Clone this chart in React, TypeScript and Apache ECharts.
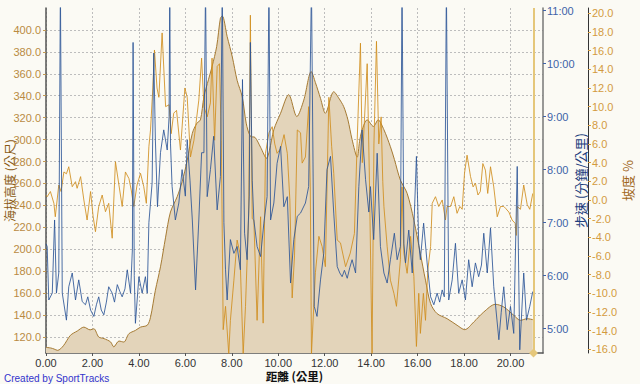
import React, { useEffect, useRef } from "react";
import * as echarts from "echarts";

// Elevation profile (km, m)
const elevKm = [0.0, 0.2, 0.35, 0.5, 0.75, 1.05, 1.35, 1.63, 1.9, 2.06, 2.27, 2.5, 2.78, 2.92, 3.14, 3.35, 3.57, 3.85, 4.07, 4.36, 4.5, 4.71, 4.93, 5.15, 5.36, 5.65, 5.86, 6.08, 6.3, 6.5, 6.65, 6.8, 7.0, 7.15, 7.35, 7.51, 7.59, 7.8, 8.02, 8.23, 8.45, 8.62, 8.8, 9.0, 9.24, 9.5, 9.62, 9.81, 10.1, 10.45, 10.8, 11.1, 11.42, 11.6, 11.82, 12.03, 12.39, 12.6, 12.82, 13.0, 13.18, 13.4, 13.5, 13.6, 13.83, 14.1, 14.3, 14.55, 14.83, 15.0, 15.26, 15.55, 15.84, 16.12, 16.34, 16.56, 16.84, 17.27, 17.7, 18.03, 18.42, 18.85, 19.35, 19.71, 20.14, 20.43, 20.72, 20.96];
const elevM = [110.5, 110, 109, 107.8, 112, 121.5, 125.5, 129, 126.5, 127.5, 120, 118.5, 115.5, 111, 116.3, 115.4, 123, 126, 129, 130.7, 138, 162.6, 184, 211, 234, 248, 261.5, 281, 305.7, 315, 318, 339, 355, 366.5, 385, 410.7, 412.8, 394, 375.6, 354, 339, 315, 303, 302, 293, 283, 290, 309, 324, 341, 321, 336, 362, 352, 337.6, 324, 343.7, 338, 330, 318, 300, 284, 298, 308, 318, 312, 318, 309, 293.5, 282, 263, 251, 226.5, 196, 171.8, 150.5, 141.3, 136.7, 130.7, 126.7, 133.7, 142.8, 149.8, 147.4, 139.8, 135.2, 136.7, 135.8];

// Pace (km, minutes per km)
const paceKm = [0.0, 0.05, 0.12, 0.27, 0.37, 0.45, 0.55, 0.62, 0.7, 0.88, 0.98, 1.13, 1.27, 1.41, 1.56, 1.7, 1.8, 1.92, 2.06, 2.17, 2.27, 2.38, 2.49, 2.6, 2.7, 2.85, 2.95, 3.07, 3.18, 3.28, 3.4, 3.5, 3.64, 3.72, 3.75, 3.8, 3.85, 4.0, 4.14, 4.28, 4.36, 4.43, 4.57, 4.64, 4.71, 4.8, 4.93, 5.07, 5.22, 5.3, 5.33, 5.36, 5.43, 5.57, 5.72, 5.86, 6.0, 6.08, 6.2, 6.3, 6.44, 6.58, 6.7, 6.8, 6.87, 6.94, 7.08, 7.22, 7.37, 7.51, 7.59, 7.66, 7.73, 7.8, 7.94, 8.09, 8.23, 8.37, 8.46, 8.55, 8.66, 8.75, 8.8, 8.88, 8.95, 9.09, 9.24, 9.38, 9.52, 9.6, 9.67, 9.81, 9.95, 10.1, 10.24, 10.39, 10.53, 10.67, 10.82, 10.96, 11.17, 11.31, 11.43, 11.55, 11.67, 11.82, 11.96, 12.1, 12.25, 12.39, 12.54, 12.65, 12.75, 12.85, 12.97, 13.08, 13.18, 13.33, 13.47, 13.61, 13.76, 13.9, 13.97, 14.11, 14.26, 14.4, 14.55, 14.69, 14.83, 15.0, 15.12, 15.26, 15.33, 15.41, 15.48, 15.62, 15.77, 15.95, 16.05, 16.12, 16.26, 16.41, 16.56, 16.7, 16.84, 16.95, 17.06, 17.15, 17.24, 17.34, 17.49, 17.63, 17.77, 17.92, 18.06, 18.2, 18.35, 18.49, 18.63, 18.75, 18.85, 19.0, 19.14, 19.28, 19.5, 19.6, 19.71, 19.86, 20.0, 20.14, 20.29, 20.4, 20.57, 20.69, 20.83, 20.96];
const paceMin = [6.6, 6.55, 5.54, 5.67, 7.05, 5.67, 6.05, 11.5, 5.67, 5.16, 5.79, 6.05, 5.54, 5.92, 5.51, 5.45, 5.6, 5.35, 5.23, 5.45, 5.6, 5.35, 5.26, 5.5, 5.79, 5.67, 5.5, 5.83, 5.7, 5.6, 5.75, 6.11, 5.67, 6.5, 10.4, 6.0, 5.1, 5.98, 5.67, 5.98, 5.67, 7.0, 7.75, 10.2, 8.56, 7.3, 8.32, 8.75, 8.37, 9.0, 11.5, 8.5, 7.68, 7.05, 7.37, 8.0, 7.5, 8.56, 7.8, 7.05, 5.73, 7.05, 8.32, 8.32, 11.5, 7.49, 8.0, 8.63, 7.24, 7.87, 11.5, 7.0, 6.11, 5.54, 6.68, 6.42, 6.55, 6.11, 9.7, 6.8, 6.3, 7.5, 10.4, 7.8, 7.05, 6.55, 6.36, 6.99, 7.49, 11.5, 7.05, 7.37, 8.12, 8.44, 7.3, 7.49, 5.86, 6.68, 7.12, 7.18, 7.37, 7.68, 11.5, 5.42, 5.23, 5.92, 6.42, 8.0, 8.25, 7.18, 6.17, 6.05, 5.98, 6.1, 5.95, 6.15, 6.3, 6.05, 7.68, 8.75, 7.81, 7.2, 7.68, 6.68, 8.31, 6.55, 6.05, 5.86, 6.3, 6.8, 6.3, 6.55, 11.5, 6.6, 6.24, 6.86, 6.05, 8.25, 6.6, 6.3, 6.99, 6.24, 5.6, 5.45, 5.67, 5.5, 5.73, 5.6, 11.5, 5.54, 5.92, 6.61, 5.67, 5.92, 5.54, 6.3, 5.79, 6.24, 5.98, 6.2, 6.8, 6.05, 6.9, 5.79, 4.79, 5.3, 5.79, 4.98, 5.42, 4.91, 8.06, 4.6, 6.05, 5.16, 5.42, 5.7];

// Grade (km, %)
const gradeKm = [0.0, 0.05, 0.19, 0.34, 0.4, 0.55, 0.65, 0.77, 0.88, 0.98, 1.13, 1.27, 1.34, 1.49, 1.63, 1.77, 1.92, 2.03, 2.13, 2.27, 2.42, 2.56, 2.7, 2.85, 2.99, 3.14, 3.28, 3.42, 3.57, 3.67, 3.78, 3.92, 4.07, 4.21, 4.32, 4.43, 4.5, 4.6, 4.67, 4.78, 4.86, 5.0, 5.15, 5.3, 5.39, 5.5, 5.62, 5.79, 5.98, 6.08, 6.22, 6.37, 6.58, 6.7, 6.8, 6.94, 7.08, 7.15, 7.26, 7.37, 7.47, 7.55, 7.63, 7.73, 7.87, 7.94, 8.09, 8.23, 8.35, 8.49, 8.59, 8.73, 8.8, 8.88, 8.95, 9.09, 9.24, 9.35, 9.45, 9.6, 9.74, 9.85, 9.95, 10.1, 10.25, 10.39, 10.5, 10.6, 10.7, 10.82, 10.96, 11.03, 11.17, 11.31, 11.38, 11.43, 11.6, 11.75, 11.89, 12.03, 12.18, 12.3, 12.39, 12.54, 12.68, 12.9, 13.1, 13.28, 13.4, 13.54, 13.62, 13.7, 13.83, 13.92, 14.04, 14.12, 14.23, 14.33, 14.43, 14.5, 14.55, 14.69, 14.83, 14.98, 15.09, 15.26, 15.33, 15.41, 15.55, 15.7, 15.84, 15.95, 16.05, 16.12, 16.25, 16.34, 16.44, 16.56, 16.63, 16.77, 16.91, 17.06, 17.2, 17.27, 17.42, 17.56, 17.7, 17.82, 17.92, 18.02, 18.13, 18.28, 18.39, 18.49, 18.6, 18.7, 18.81, 18.92, 19.02, 19.14, 19.28, 19.43, 19.57, 19.71, 19.79, 19.93, 20.07, 20.2, 20.25, 20.29, 20.43, 20.57, 20.72, 20.83, 20.96];
const gradePct = [0.5, 0.35, 0.9, -0.36, -1.8, 1.6, 0.9, 3.0, 2.8, 3.56, 1.42, 1.96, 1.25, 2.5, 0.0, -2.15, 0.9, -1.8, -3.4, -0.7, 0.53, -1.26, -0.36, -4.1, 4.1, 1.6, -0.7, 3.0, 2.3, 1.07, -0.7, 1.6, 2.86, 1.42, -0.36, 5.7, 7.5, 12.0, 16.07, 12.0, 11.0, 17.9, 10.0, 10.2, 7.1, 9.3, 9.6, 5.35, 12.0, 11.0, 4.6, 6.4, 10.7, 15.2, 10.0, 8.9, 10.4, 15.2, 6.4, 14.3, 14.6, 6.4, -13.9, -11.4, -16.5, -12.9, -8.6, -4.3, -5.7, -16.5, -11.4, -1.4, 19.8, -2.0, -2.15, -12.9, -1.8, -13.2, 5.0, 7.2, 7.85, 6.0, 5.0, 5.5, 7.0, 5.0, 0.0, -10.5, -6.0, 7.5, 7.2, 3.95, 4.6, 10.0, 1.4, -16.5, -7.8, -3.9, -5.0, -7.15, 11.0, 5.7, 2.86, -4.3, -4.6, -7.15, -5.7, -3.6, 6.4, 16.8, 4.0, 8.0, 14.6, 3.0, -16.5, 6.0, 17.0, 6.0, 8.9, 2.0, -0.7, -5.0, -8.6, -10.0, -11.4, -6.4, 1.4, -5.7, -7.86, -3.9, -8.2, -15.7, -10.0, -14.3, -10.0, -12.9, -7.5, -5.0, -0.36, 0.35, -0.7, 0.0, -2.15, -0.7, -0.7, 0.35, -1.43, -0.7, -1.0, 2.86, 4.8, 2.5, 1.4, 1.8, 0.53, 0.9, 3.9, 3.2, 0.7, 3.56, 1.4, -1.8, -0.7, -0.7, -0.9, -1.3, -2.15, -2.5, -3.8, -0.7, -1.0, 1.6, -0.5, -1.0, 0.7];

// Tick labels
const distTicks = [0, 2, 4, 6, 8, 10, 12, 14, 16, 18, 20];
const elevTicks = [120, 140, 160, 180, 200, 220, 240, 260, 280, 300, 320, 340, 360, 380, 400];
const paceTicks = [5, 6, 7, 8, 9, 10, 11];
const gradeTicks = [-16, -14, -12, -10, -8, -6, -4, -2, 0, 2, 4, 6, 8, 10, 12, 14, 16, 18, 20];
const lapMarkerKm = [20.99];

const FONT = "Liberation Sans, Arial, sans-serif";
const CJK = "Noto Sans CJK TC, sans-serif";

export default function App() {
  const ref = useRef<HTMLDivElement>(null);
  useEffect(() => {
    if (!ref.current) return;
    const chart = echarts.init(ref.current, undefined, { renderer: "svg" });
    const pair = (xs: number[], ys: number[]) => xs.map((x, i) => [x, ys[i]]);
    const fmtPace = (v: number) => {
      const m = Math.floor(v + 1e-6);
      const s = Math.round((v - m) * 60);
      return `${m}:${String(s).padStart(2, "0")}`;
    };
    chart.setOption({
      animation: false,
      backgroundColor: "#FBFAF4",
      textStyle: { fontFamily: FONT },
      grid: { left: 46, right: 97, top: 8, bottom: 31, containLabel: false, outerBoundsMode: "none" },
      xAxis: {
        type: "value",
        min: 0,
        max: 21.4,
        name: "距離 (公里)",
        nameLocation: "middle",
        nameGap: 17,
        nameMoveOverlap: false,
        nameTextStyle: { color: "#111", fontSize: 11.5, fontWeight: "bold", fontFamily: CJK, lineHeight: 12 },
        axisLine: { show: true, onZero: false, lineStyle: { color: "#555", width: 1.5 } },
        axisTick: { show: true, customValues: distTicks, length: 3, lineStyle: { color: "#555" } },
        axisLabel: { customValues: distTicks, color: "#333", fontSize: 11, margin: 4, formatter: (v: number) => v.toFixed(2) },
        splitLine: { show: true, lineStyle: { color: "#bdbdbd", type: [2, 2] } },
      },
      yAxis: [
        {
          type: "value",
          position: "left",
          min: 105.4,
          max: 420,
          name: "海拔高度 (公尺)",
          nameLocation: "middle",
          nameRotate: 90,
          nameGap: 30,
          nameMoveOverlap: false,
          nameTextStyle: { color: "#8A5A14", fontSize: 12, fontFamily: CJK, lineHeight: 13 },
          axisLine: { show: true, onZero: false, lineStyle: { color: "#555", width: 1.5 } },
          axisTick: { show: true, customValues: elevTicks, length: 3, lineStyle: { color: "#C39A55" } },
          axisLabel: { customValues: elevTicks, color: "#B98A43", fontSize: 11, margin: 5, formatter: (v: number) => v.toFixed(1) },
          splitLine: { show: true, lineStyle: { color: "#bdbdbd", type: [2, 2] } },
        },
        {
          type: "value",
          position: "right",
          min: 4.54,
          max: 11.05,
          name: "步速 (分鐘/公里)",
          nameLocation: "middle",
          nameRotate: 90,
          nameGap: 30,
          nameMoveOverlap: false,
          nameTextStyle: { color: "#1D3E7E", fontSize: 13, fontFamily: CJK, lineHeight: 14 },
          axisLine: { show: true, onZero: false, lineStyle: { color: "#777", width: 1.5 } },
          axisTick: { show: true, customValues: paceTicks, length: 3, lineStyle: { color: "#4063A8" } },
          axisLabel: { customValues: paceTicks, color: "#4063A8", fontSize: 11, margin: 4, formatter: fmtPace },
          splitLine: { show: false },
        },
        {
          type: "value",
          position: "right",
          offset: 45,
          min: -16.4,
          max: 20.57,
          name: "坡度 %",
          nameLocation: "middle",
          nameRotate: 90,
          nameGap: 32,
          nameMoveOverlap: false,
          nameTextStyle: { color: "#A0661A", fontSize: 13, fontFamily: CJK, lineHeight: 14 },
          axisLine: { show: true, onZero: false, lineStyle: { color: "#333", width: 1 } },
          axisTick: { show: true, customValues: gradeTicks, length: 3, lineStyle: { color: "#D39A3E" } },
          axisLabel: { customValues: gradeTicks, color: "#D39A3E", fontSize: 11, margin: 4, formatter: (v: number) => v.toFixed(1) },
          splitLine: { show: false },
        },
      ],
      series: [
        {
          type: "line",
          name: "elevation",
          yAxisIndex: 0,
          data: pair(elevKm, elevM),
          showSymbol: false,
          smooth: 0.3,
          lineStyle: { color: "#A57A33", width: 1 },
          areaStyle: { color: "#E3D4BA", opacity: 1, origin: "start" },
          z: 1,
        },
        {
          type: "line",
          name: "grade",
          yAxisIndex: 2,
          data: pair(gradeKm, gradePct),
          showSymbol: false,
          lineStyle: { color: "#D08E1F", width: 1, opacity: 0.85 },
          z: 2,
          markLine: {
            silent: true,
            symbol: ["diamond", "none"],
            symbolSize: 9,
            label: { show: false },
            lineStyle: { color: "#E5C77A", width: 2, type: "solid" },
            itemStyle: { color: "#E8C840" },
            data: lapMarkerKm.map((k) => ({ xAxis: k })),
          },
        },
        {
          type: "line",
          name: "pace",
          yAxisIndex: 1,
          data: pair(paceKm, paceMin),
          showSymbol: false,
          lineStyle: { color: "#2B5597", width: 1, opacity: 0.85 },
          z: 3,
        },
      ],
      graphic: [
        {
          type: "text",
          left: 4,
          bottom: 1,
          style: { text: "Created by SportTracks", fill: "#3333CC", fontSize: 10, fontFamily: FONT },
        },
      ],
    });
    return () => chart.dispose();
  }, []);
  return <div ref={ref} style={{ position: "fixed", left: 0, top: 0, width: 640, height: 384 }} />;
}
